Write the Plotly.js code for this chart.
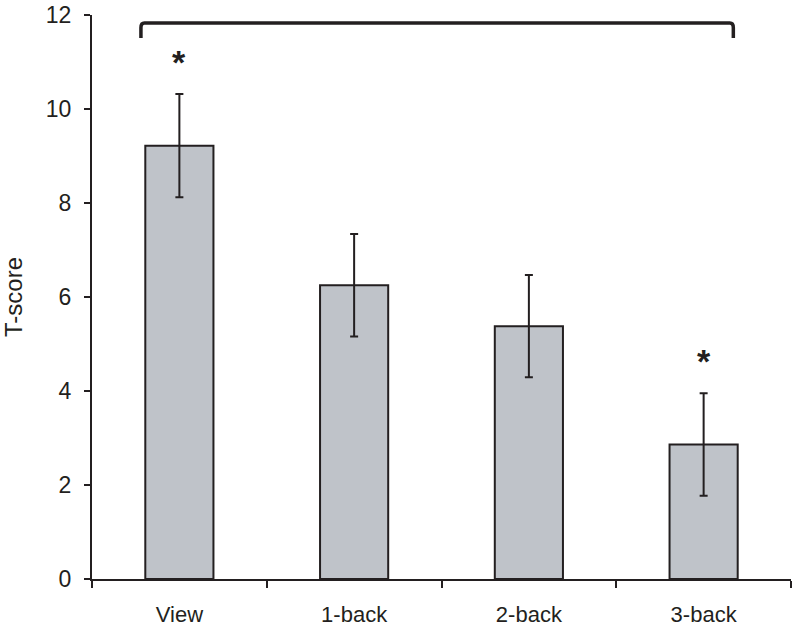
<!DOCTYPE html>
<html>
<head>
<meta charset="utf-8">
<script src="https://cdn.plot.ly/plotly-3.0.1.min.js"></script>
<style>
  body { margin: 0; background: #fff; }
  #chart { width: 800px; height: 632px; }
</style>
</head>
<body>
<div id="chart"></div>
<script>
    var conditions = ['View', '1-back', '2-back', '3-back'];
    var tScores = [9.22, 6.25, 5.38, 2.86];
    var tErrors = [1.1, 1.09, 1.09, 1.09];
    var significant = [true, false, false, true];

    var ink = '#231f20';

    var trace = {
        x: conditions,
        y: tScores,
        type: 'bar',
        width: 0.39,
        marker: {
            color: '#bfc3c9',
            line: { color: ink, width: 2 }
        },
        error_y: {
            type: 'data',
            array: tErrors,
            visible: true,
            color: ink,
            thickness: 2,
            width: 4
        },
        hoverinfo: 'skip'
    };

    var stars = [];
    conditions.forEach(function(c, i) {
        if (significant[i]) {
            stars.push({
                x: c,
                y: tScores[i] + tErrors[i] + 0.24,
                xref: 'x',
                yref: 'y',
                text: '<b>*</b>',
                showarrow: false,
                yanchor: 'bottom',
                font: { family: 'Liberation Sans, Arial, sans-serif', size: 34, color: ink }
            });
        }
    });

    // bracket spanning View .. 3-back
    var bx0 = -0.22, bx1 = 3.17, byTop = 11.83, byLow = 11.51, r = 0.02;
    var bracket = {
        type: 'path',
        xref: 'x',
        yref: 'y',
        path: 'M ' + bx0 + ' ' + byLow +
              ' L ' + bx0 + ' ' + (byTop - 0.1) +
              ' Q ' + bx0 + ' ' + byTop + ' ' + (bx0 + r) + ' ' + byTop +
              ' L ' + (bx1 - r) + ' ' + byTop +
              ' Q ' + bx1 + ' ' + byTop + ' ' + bx1 + ' ' + (byTop - 0.1) +
              ' L ' + bx1 + ' ' + byLow,
        line: { color: ink, width: 3.5 }
    };

    var layout = {
        width: 800,
        height: 632,
        margin: { l: 92, r: 9, t: 15, b: 53 },
        paper_bgcolor: '#ffffff',
        plot_bgcolor: '#ffffff',
        showlegend: false,
        font: { family: 'Liberation Sans, Arial, sans-serif', size: 22, color: ink },
        xaxis: {
            range: [-0.5, 3.5],
            showline: true,
            linecolor: ink,
            linewidth: 2,
            ticks: 'outside',
            tickson: 'boundaries',
            ticklen: 7,
            tickwidth: 2,
            tickcolor: ink,
            showgrid: false,
            zeroline: false,
            ticklabelstandoff: 15,
            tickfont: { size: 22 }
        },
        yaxis: {
            range: [0, 12],
            dtick: 2,
            showline: true,
            linecolor: ink,
            linewidth: 2,
            ticks: 'outside',
            ticklen: 6,
            tickwidth: 2,
            tickcolor: ink,
            showgrid: false,
            zeroline: false,
            ticklabelstandoff: 8,
            tickfont: { size: 23 },
            title: { text: 'T-score', font: { size: 24 }, standoff: 19 }
        },
        shapes: [bracket],
        annotations: stars
    };

    Plotly.newPlot('chart', [trace], layout, { displayModeBar: false, staticPlot: true });
</script>
</body>
</html>
